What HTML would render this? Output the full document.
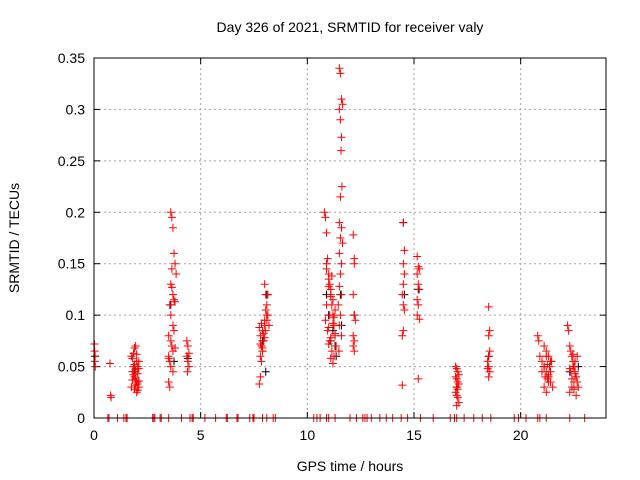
<!DOCTYPE html>
<html><head><meta charset="utf-8"><style>
body{margin:0;background:#fff}
svg{display:block;font-family:"Liberation Sans",sans-serif}
</style></head><body>
<svg id="chart" width="640" height="480" xmlns="http://www.w3.org/2000/svg">
<text x="350" y="32" text-anchor="middle" font-size="14">Day 326 of 2021, SRMTID for receiver valy</text>
<text x="350" y="471" text-anchor="middle" font-size="14">GPS time / hours</text>
<text transform="translate(19,238) rotate(-90)" text-anchor="middle" font-size="14">SRMTID / TECUs</text>
<g id="grid"></g><g id="axes"></g><g id="black"></g><g id="red"></g>
<rect x="94" y="58" width="512" height="360" fill="none" stroke="#000" stroke-width="1"/>
</svg>
<script>
const xTicks=[0,5,10,15,20];
const yTicks=[0,0.05,0.1,0.15,0.2,0.25,0.3,0.35];
const yTickLabels=["0","0.05","0.1","0.15","0.2","0.25","0.3","0.35"];
const redH=[0.02,0.03,0.05,0.04,0.06,0.75,0.78,0.8,
1.75,1.8,1.85,1.9,1.95,2.0,2.05,2.1,1.8,1.85,1.9,1.95,2.0,2.05,1.75,1.9,2.0,2.1,1.85,1.95,2.05,1.8,2.0,2.1,1.9,1.95,2.05,2.1,
3.5,3.55,3.6,3.65,3.7,3.75,3.8,3.85,3.6,3.65,3.7,3.75,3.8,3.55,3.6,3.7,3.75,3.5,3.6,3.65,3.7,3.5,3.55,3.6,3.7,3.5,3.8,3.65,
4.35,4.4,4.45,4.35,4.4,4.45,4.38,
7.75,7.8,7.85,7.9,7.95,8.0,8.05,8.1,8.15,8.2,7.8,7.9,8.0,8.1,7.85,7.95,8.05,8.15,7.8,7.9,8.0,8.1,7.75,7.85,7.95,8.05,7.8,7.9,8.0,
10.8,10.85,10.9,10.95,11.0,11.05,11.1,11.15,11.2,11.25,11.3,11.35,10.9,11.0,11.1,11.2,11.3,10.85,10.95,11.05,11.15,11.25,10.9,11.0,11.1,11.2,11.3,11.0,11.1,11.2,10.9,11.05,11.15,11.25,11.0,11.1,
11.5,11.55,11.6,11.65,11.5,11.55,11.6,11.58,11.62,11.55,11.5,11.6,11.55,11.65,11.5,11.6,11.55,11.5,11.6,11.45,11.55,11.5,11.6,11.48,
12.15,12.2,12.2,12.15,12.2,12.25,12.15,12.2,12.15,12.2,
14.5,14.55,14.5,14.55,14.5,14.45,14.5,14.55,14.5,14.45,14.45,
15.15,15.2,15.25,15.15,15.2,15.25,15.15,15.2,15.15,15.25,15.2,
16.95,17.0,17.05,17.1,16.95,17.0,17.05,17.1,17.0,17.05,16.95,17.0,17.05,17.1,17.0,
18.5,18.55,18.5,18.55,18.5,18.45,18.5,18.55,18.5,18.45,
20.8,20.85,20.9,21.0,21.1,21.2,21.3,21.4,21.5,21.1,21.2,21.3,21.4,21.0,21.15,21.25,21.35,21.45,21.1,21.2,21.3,21.4,21.2,21.3,21.25,
22.2,22.25,22.3,22.35,22.4,22.45,22.5,22.55,22.6,22.65,22.7,22.3,22.4,22.5,22.6,22.35,22.45,22.55,22.65,22.3,22.4,22.5,22.6,22.45,22.55];
const redV=[0.072,0.065,0.06,0.055,0.05,0.053,0.022,0.02,
0.06,0.058,0.063,0.068,0.07,0.055,0.05,0.048,0.045,0.042,0.04,0.038,0.035,0.033,0.03,0.028,0.025,0.03,0.05,0.047,0.043,0.037,0.062,0.055,0.052,0.032,0.027,0.036,
0.035,0.03,0.2,0.195,0.185,0.16,0.15,0.14,0.13,0.127,0.12,0.115,0.113,0.11,0.1,0.09,0.085,0.08,0.075,0.07,0.065,0.06,0.055,0.05,0.045,0.058,0.068,0.145,
0.075,0.07,0.063,0.06,0.055,0.05,0.045,
0.033,0.04,0.055,0.065,0.075,0.13,0.12,0.11,0.1,0.09,0.08,0.085,0.09,0.095,0.07,0.075,0.085,0.12,0.06,0.065,0.078,0.1,0.088,0.092,0.082,0.105,0.072,0.068,0.095,
0.2,0.195,0.18,0.155,0.14,0.13,0.12,0.11,0.1,0.09,0.08,0.07,0.15,0.135,0.125,0.115,0.105,0.095,0.085,0.075,0.065,0.06,0.145,0.128,0.118,0.092,0.082,0.072,0.058,0.053,0.11,0.1,0.138,0.098,0.088,0.078,
0.34,0.335,0.31,0.305,0.3,0.29,0.273,0.26,0.225,0.215,0.19,0.185,0.175,0.17,0.16,0.15,0.14,0.128,0.12,0.11,0.1,0.09,0.08,0.065,
0.178,0.155,0.15,0.12,0.1,0.095,0.08,0.075,0.07,0.065,
0.19,0.163,0.15,0.14,0.13,0.12,0.11,0.105,0.085,0.08,0.032,
0.157,0.147,0.145,0.14,0.13,0.125,0.115,0.11,0.1,0.096,0.038,
0.05,0.048,0.045,0.042,0.04,0.038,0.035,0.033,0.03,0.028,0.025,0.022,0.02,0.015,0.012,
0.108,0.085,0.08,0.065,0.06,0.055,0.05,0.045,0.04,0.048,
0.08,0.075,0.06,0.055,0.05,0.045,0.04,0.035,0.03,0.07,0.065,0.06,0.055,0.045,0.04,0.038,0.05,0.055,0.03,0.025,0.035,0.045,0.06,0.042,0.052,
0.09,0.085,0.07,0.065,0.06,0.055,0.05,0.045,0.04,0.035,0.03,0.025,0.03,0.035,0.04,0.045,0.05,0.055,0.06,0.048,0.038,0.028,0.022,0.062,0.043];
const blackH=[0.05,1.9,2.0,3.6,3.75,4.4,7.9,8.1,8.05,10.9,11.0,11.1,11.2,11.3,11.35,11.55,11.6,12.2,14.5,14.55,15.2,17.0,18.5,21.1,21.3,22.3,22.5,22.7];
const blackV=[0.06,0.045,0.035,0.11,0.055,0.058,0.075,0.12,0.045,0.12,0.1,0.075,0.085,0.07,0.06,0.12,0.09,0.1,0.19,0.12,0.125,0.03,0.06,0.05,0.04,0.045,0.03,0.05];
const zeroH=[0.65,0.7,1.1,1.4,1.5,1.55,2.75,2.8,2.85,3.1,3.15,3.5,4.1,4.5,4.6,4.65,5.2,5.7,6.2,6.25,6.7,6.75,7.3,7.45,7.5,7.9,8.1,8.4,8.5,10.3,10.45,10.6,10.9,11.0,11.3,12.0,12.3,12.6,12.7,12.8,13.0,13.4,13.7,14.0,14.4,14.7,15.3,15.9,16.7,16.9,17.0,17.35,17.8,18.2,18.6,19.7,19.9,20.25,20.8,20.9,21.2,22.3,23.0];
const X=h=>94+h*512/24, Y=v=>418-v*360/0.35;
const NS="http://www.w3.org/2000/svg";
function mk(tag,attrs,parent){const e=document.createElementNS(NS,tag);for(const k in attrs)e.setAttribute(k,attrs[k]);parent.appendChild(e);return e;}
const grid=document.getElementById('grid'),axes=document.getElementById('axes');
xTicks.forEach(t=>{const x=X(t);
 if(t>0){const g=mk('line',{x1:x,x2:x,y1:58,y2:418,stroke:'#a0a0a0','stroke-dasharray':'2,3'},grid);
 
 }
 mk('line',{x1:x,x2:x,y1:418,y2:412,stroke:'#000'},axes);
 mk('line',{x1:x,x2:x,y1:58,y2:64,stroke:'#000'},axes);
 const l=mk('text',{x:x,y:440,'text-anchor':'middle','font-size':14},axes);l.textContent=t;
 
 });
yTicks.forEach((t,i)=>{const y=Y(t);
 if(t>0&&t<0.35){const g=mk('line',{x1:94,x2:606,y1:y,y2:y,stroke:'#a0a0a0','stroke-dasharray':'2,3'},grid);
 
 }
 mk('line',{x1:94,x2:100,y1:y,y2:y,stroke:'#000'},axes);
 mk('line',{x1:600,x2:606,y1:y,y2:y,stroke:'#000'},axes);
 const l=mk('text',{x:85,y:y+5,'text-anchor':'end','font-size':14},axes);l.textContent=yTickLabels[i];
 
 });
function plus(g,h,v,c){const x=X(h),y=Y(v);
 const p=mk('path',{d:`M${x-4},${y}H${x+4}M${x},${y-4}V${y+4}`,stroke:c,'stroke-width':1},g);
 return p;}
const bg=document.getElementById('black'),rg=document.getElementById('red');
blackH.forEach((h,i)=>{const p=plus(bg,h,blackV[i],'#000');
 
 });
redH.forEach((h,i)=>{const p=plus(rg,h,redV[i],'#f00');
 
 });
zeroH.forEach(h=>{const p=plus(rg,h,0,'#f00');
 
 });
</script>
</body></html>
